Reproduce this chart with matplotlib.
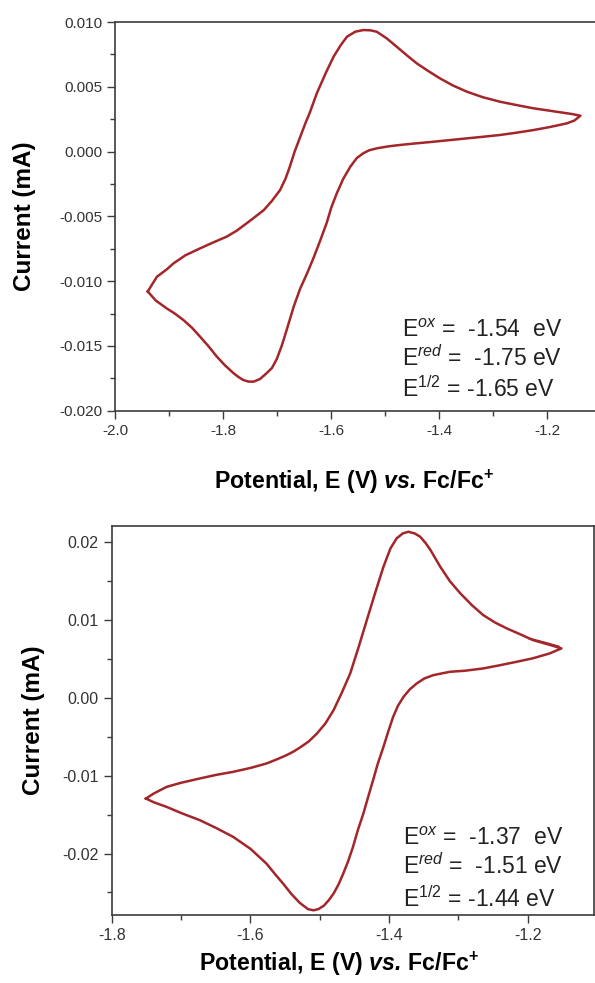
import numpy as np
import matplotlib
matplotlib.use('Agg')
import matplotlib.pyplot as plt
from matplotlib.ticker import MultipleLocator, FormatStrFormatter

plt.rcParams['font.family'] = ['Liberation Sans', 'DejaVu Sans']
plt.rcParams['mathtext.fontset'] = 'custom'
plt.rcParams['mathtext.rm'] = 'Liberation Sans'
plt.rcParams['mathtext.it'] = 'Liberation Sans:italic'
plt.rcParams['mathtext.bf'] = 'Liberation Sans:bold'
plt.rcParams['mathtext.bfit'] = 'Liberation Sans:bold:italic'
plt.rcParams['axes.unicode_minus'] = False

# --- top CV: oxidative sweep (left vertex -> right vertex), then reductive sweep back
E1_ox = [-1.940, -1.923, -1.905, -1.892, -1.870, -1.843, -1.818, -1.794, -1.775,
         -1.757, -1.740, -1.725, -1.710, -1.695, -1.685, -1.677, -1.668, -1.658,
         -1.648, -1.640, -1.627, -1.610, -1.596, -1.583, -1.571, -1.556, -1.541,
         -1.528, -1.516, -1.498, -1.479, -1.460, -1.442, -1.420, -1.399, -1.375,
         -1.349, -1.320, -1.288, -1.256, -1.226, -1.200, -1.176, -1.155, -1.139]
I1_ox = [-0.01080, -0.00966, -0.00910, -0.00862, -0.00800, -0.00747, -0.00700,
         -0.00657, -0.00610, -0.00554, -0.00500, -0.00451, -0.00380, -0.00297,
         -0.00210, -0.00117, 0.00000, 0.00110, 0.00220, 0.00300, 0.00450, 0.00610,
         0.00732, 0.00820, 0.00887, 0.00925, 0.00938, 0.00936, 0.00925, 0.00875,
         0.00809, 0.00742, 0.00681, 0.00620, 0.00565, 0.00510, 0.00462, 0.00420,
         0.00385, 0.00358, 0.00334, 0.00318, 0.00303, 0.00290, 0.00277]
E1_red = [-1.139, -1.150, -1.164, -1.195, -1.226, -1.257, -1.288, -1.320, -1.349,
          -1.380, -1.411, -1.442, -1.473, -1.495, -1.516, -1.530, -1.541, -1.553,
          -1.565, -1.578, -1.590, -1.600, -1.609, -1.621, -1.633, -1.645, -1.658,
          -1.670, -1.683, -1.692, -1.701, -1.710, -1.720, -1.732, -1.744, -1.754,
          -1.763, -1.772, -1.781, -1.797, -1.812, -1.828, -1.843, -1.858, -1.874,
          -1.890, -1.905, -1.925, -1.940]
I1_red = [0.00277, 0.00240, 0.00218, 0.00190, 0.00166, 0.00146, 0.00128, 0.00114,
          0.00102, 0.00089, 0.00076, 0.00064, 0.00051, 0.00040, 0.00025, 0.00010,
          -0.00013, -0.00050, -0.00117, -0.00210, -0.00322, -0.00430, -0.00554,
          -0.00690, -0.00820, -0.00940, -0.01060, -0.01200, -0.01380, -0.01500,
          -0.01600, -0.01670, -0.01711, -0.01755, -0.01776, -0.01775, -0.01763,
          -0.01740, -0.01711, -0.01650, -0.01583, -0.01500, -0.01429, -0.01360,
          -0.01300, -0.01250, -0.01210, -0.01150, -0.01080]

# --- bottom CV
E2_ox = [-1.751, -1.740, -1.721, -1.700, -1.673, -1.650, -1.625, -1.600, -1.577,
         -1.562, -1.548, -1.538, -1.529, -1.516, -1.504, -1.492, -1.480, -1.468,
         -1.456, -1.444, -1.432, -1.420, -1.408, -1.398, -1.389, -1.380, -1.372,
         -1.363, -1.355, -1.347, -1.340, -1.326, -1.312, -1.297, -1.280, -1.264,
         -1.247, -1.230, -1.211, -1.192, -1.171, -1.151]
I2_ox = [-0.01293, -0.01230, -0.01143, -0.01090, -0.01035, -0.00990, -0.00950,
         -0.00900, -0.00843, -0.00790, -0.00736, -0.00690, -0.00640, -0.00560,
         -0.00457, -0.00330, -0.00157, 0.00070, 0.00315, 0.00650, 0.01001, 0.01350,
         0.01686, 0.01920, 0.02051, 0.02115, 0.02136, 0.02115, 0.02072, 0.01990,
         0.01900, 0.01686, 0.01500, 0.01344, 0.01190, 0.01065, 0.00970, 0.00894,
         0.00820, 0.00743, 0.00690, 0.00637]
E2_red = [-1.151, -1.168, -1.192, -1.216, -1.240, -1.264, -1.290, -1.312, -1.336,
          -1.349, -1.360, -1.370, -1.379, -1.387, -1.394, -1.401, -1.408, -1.416,
          -1.423, -1.430, -1.437, -1.445, -1.452, -1.459, -1.466, -1.473, -1.480,
          -1.487, -1.494, -1.502, -1.509, -1.517, -1.529, -1.541, -1.553, -1.565,
          -1.577, -1.600, -1.625, -1.650, -1.673, -1.700, -1.721, -1.740, -1.751]
I2_red = [0.00637, 0.00572, 0.00510, 0.00464, 0.00420, 0.00379, 0.00350, 0.00336,
          0.00293, 0.00250, 0.00186, 0.00110, 0.00014, -0.00100, -0.00243, -0.00430,
          -0.00629, -0.00840, -0.01057, -0.01270, -0.01486, -0.01700, -0.01915,
          -0.02100, -0.02257, -0.02400, -0.02514, -0.02600, -0.02670, -0.02715,
          -0.02730, -0.02715, -0.02633, -0.02520, -0.02386, -0.02260, -0.02129,
          -0.01940, -0.01786, -0.01670, -0.01572, -0.01480, -0.01401, -0.01340,
          -0.01293]
# short trace of a second cycle near the anodic vertex
E2_extra = [-1.198, -1.175, -1.155]
I2_extra = [0.00765, 0.00712, 0.00662]

labels1 = [r'E$^{ox}$ =  -1.54  eV', r'E$^{red}$ =  -1.75 eV', r'E$^{\mathit{1/2}}$ = -1.65 eV']
labels2 = [r'E$^{ox}$ =  -1.37  eV', r'E$^{red}$ =  -1.51 eV', r'E$^{\mathit{1/2}}$ = -1.44 eV']

xlabel = r'Potential, E (V) $\mathbfit{vs.}\,\mathbf{Fc/Fc}^{\mathbf{+}}$'
ylabel = 'Current (mA)'

line_col = '#a3262a'
axis_col = '#3c3c3c'

fig = plt.figure(figsize=(5.95, 9.83), dpi=100)
ax1 = fig.add_axes([0.1938, 0.5822, 0.8062, 0.3954])
ax2 = fig.add_axes([0.1882, 0.0692, 0.8101, 0.3957])


def style(ax, fs):
    for s in ax.spines.values():
        s.set_color(axis_col)
        s.set_linewidth(1.2)
    ax.tick_params(which='major', direction='out', length=6, width=1.0,
                   color=axis_col, labelcolor='#333333', labelsize=fs, pad=3.5)
    ax.tick_params(which='minor', direction='out', length=3.5, width=1.0,
                   color=axis_col)
    ax.tick_params(top=False, right=False)


ax1.plot(E1_ox + E1_red, I1_ox + I1_red, color=line_col, lw=1.8)
ax1.set_xlim(-2.0, -1.112)
ax1.set_ylim(-0.020, 0.010)
ax1.xaxis.set_major_locator(MultipleLocator(0.2))
ax1.xaxis.set_minor_locator(MultipleLocator(0.1))
ax1.yaxis.set_major_locator(MultipleLocator(0.005))
ax1.yaxis.set_minor_locator(MultipleLocator(0.0025))
ax1.xaxis.set_major_formatter(FormatStrFormatter('%.1f'))
ax1.yaxis.set_major_formatter(FormatStrFormatter('%.3f'))
style(ax1, 11)
ax1.spines['right'].set_visible(False)
ax1.set_xlabel(xlabel, fontsize=16.7, fontweight='bold')
ax1.set_ylabel(ylabel, fontsize=17.5, fontweight='bold')
ax1.xaxis.set_label_coords(0.4976, -0.147)
ax1.yaxis.set_label_coords(-0.165, 0.5)
for txt, yy in zip(labels1, [0.190, 0.115, 0.035]):
    ax1.text(0.598, yy, txt, transform=ax1.transAxes, fontsize=16.5,
             color='#222222', ha='left', va='baseline')

ax2.plot(E2_ox + E2_red, I2_ox + I2_red, color=line_col, lw=1.8)
ax2.plot(E2_extra, I2_extra, color=line_col, lw=1.4)
ax2.set_xlim(-1.8, -1.104)
ax2.set_ylim(-0.0279, 0.0221)
ax2.xaxis.set_major_locator(MultipleLocator(0.2))
ax2.xaxis.set_minor_locator(MultipleLocator(0.1))
ax2.yaxis.set_major_locator(MultipleLocator(0.01))
ax2.yaxis.set_minor_locator(MultipleLocator(0.005))
ax2.xaxis.set_major_formatter(FormatStrFormatter('%.1f'))
ax2.yaxis.set_major_formatter(FormatStrFormatter('%.2f'))
style(ax2, 11.5)
ax2.set_xlabel(xlabel, fontsize=16.7, fontweight='bold')
ax2.set_ylabel(ylabel, fontsize=17.5, fontweight='bold')
ax2.xaxis.set_label_coords(0.471, -0.090)
ax2.yaxis.set_label_coords(-0.138, 0.5)
for txt, yy in zip(labels2, [0.180, 0.105, 0.021]):
    ax2.text(0.604, yy, txt, transform=ax2.transAxes, fontsize=16.5,
             color='#222222', ha='left', va='baseline')

fig.savefig('out.png', dpi=100, facecolor='white')
